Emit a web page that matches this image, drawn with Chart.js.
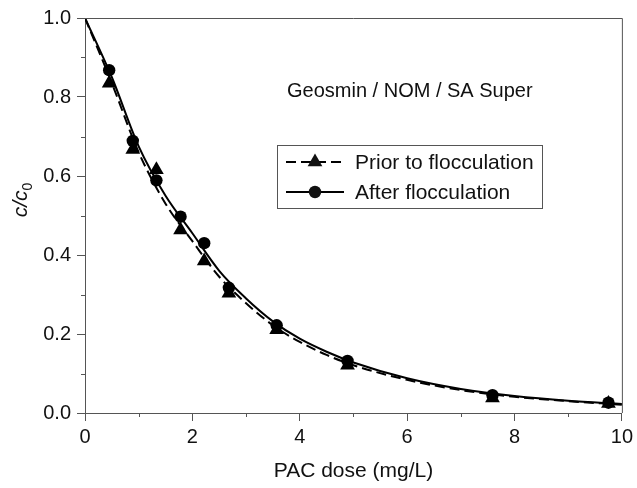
<!DOCTYPE html>
<html>
<head>
<meta charset="utf-8">
<script src="https://cdn.jsdelivr.net/npm/chart.js@4"></script>
<style>
  html, body { margin: 0; padding: 0; background: #fff; }
  #wrap { width: 637px; height: 488px; }
</style>
</head>
<body>
<div id="wrap"><canvas id="chart" width="637" height="488"></canvas></div>
<script>
// measured points (PAC dose, c/c0)
const doseX = [0.45, 0.89, 1.33, 1.78, 2.22, 2.68, 3.57, 4.89, 7.59, 9.75];
const priorY = [0.835, 0.667, 0.616, 0.463, 0.385, 0.303, 0.211, 0.121, 0.038, 0.024];
const afterY = [0.868, 0.689, 0.589, 0.497, 0.430, 0.317, 0.222, 0.132, 0.045, 0.026];

// fitted curves
const fitX = [0, 0.5, 1, 1.5, 2, 2.5, 3, 3.5, 4, 4.5, 5, 6, 7, 8, 9, 10];
const fitAfter = [1.0, 0.850, 0.675, 0.550, 0.455, 0.360, 0.290, 0.232, 0.188, 0.155, 0.128, 0.088, 0.061, 0.043, 0.031, 0.023];
const fitPrior = [1.0, 0.835, 0.660, 0.530, 0.435, 0.345, 0.278, 0.222, 0.180, 0.147, 0.121, 0.084, 0.058, 0.041, 0.030, 0.021];

const xTicks = [0, 2, 4, 6, 8, 10];
const yTicks = [0.0, 0.2, 0.4, 0.6, 0.8, 1.0];
const seriesNames = ['Prior to flocculation', 'After flocculation'];
const noteText = 'Geosmin / NOM / SA Super';

const FONT = "'Liberation Sans', Arial, sans-serif";
const AXIS = '#555';
const TRI_R = 8.5;
const DOT_R = 6.2;

function pts(xs, ys) {
    return xs.map((x, i) => ({ x: x, y: ys[i] }));
}

// box, minor ticks, legend, note, y title
const decorPlugin = {
    id: 'decor',
    afterDraw(chart) {
        const ctx = chart.ctx;
        const a = chart.chartArea;
        const xs = chart.scales.x;
        const ys = chart.scales.y;
        ctx.save();

        // frame top/right
        ctx.strokeStyle = AXIS;
        ctx.lineWidth = 1;
        ctx.beginPath();
        ctx.moveTo(a.left, a.top + 0.5);
        ctx.lineTo(a.right + 0.5, a.top + 0.5);
        ctx.lineTo(a.right + 0.5, a.bottom);
        ctx.stroke();

        // minor ticks
        ctx.beginPath();
        for (let i = 0; i < xTicks.length - 1; i++) {
            const px = Math.round(xs.getPixelForValue((xTicks[i] + xTicks[i + 1]) / 2)) + 0.5;
            ctx.moveTo(px, a.bottom);
            ctx.lineTo(px, a.bottom + 4);
        }
        for (let i = 0; i < yTicks.length - 1; i++) {
            const py = Math.round(ys.getPixelForValue((yTicks[i] + yTicks[i + 1]) / 2)) + 0.5;
            ctx.moveTo(a.left, py);
            ctx.lineTo(a.left - 4, py);
        }
        ctx.stroke();

        // note
        ctx.fillStyle = '#111';
        ctx.font = '20px ' + FONT;
        ctx.textBaseline = 'middle';
        ctx.textAlign = 'left';
        ctx.fillText(noteText, 287, 91);

        // legend
        ctx.strokeStyle = AXIS;
        ctx.lineWidth = 1;
        ctx.strokeRect(277.5, 145.5, 265, 63);
        const rows = [
            { y: 162, dash: [10, 5], style: 'triangle' },
            { y: 192, dash: [], style: 'circle' }
        ];
        rows.forEach((r, i) => {
            ctx.strokeStyle = '#000';
            ctx.lineWidth = 2;
            ctx.setLineDash(r.dash);
            ctx.beginPath();
            ctx.moveTo(286, r.y);
            ctx.lineTo(344, r.y);
            ctx.stroke();
            ctx.setLineDash([]);
            Chart.helpers.drawPoint(ctx, {
                pointStyle: r.style,
                radius: r.style === 'triangle' ? TRI_R : DOT_R,
                borderWidth: 0
            }, 315, r.y);
            ctx.fillStyle = '#111';
            ctx.font = '21px ' + FONT;
            ctx.fillText(seriesNames[i], 355, r.y + 1);
        });

        // y axis title: c/c0
        ctx.translate(20, 200);
        ctx.rotate(-Math.PI / 2);
        ctx.fillStyle = '#111';
        ctx.textAlign = 'left';
        ctx.textBaseline = 'alphabetic';
        ctx.font = 'italic 21px ' + FONT;
        const w1 = ctx.measureText('c/c').width;
        ctx.font = '14px ' + FONT;
        const w2 = ctx.measureText('0').width;
        const start = -(w1 + w2) / 2;
        ctx.font = 'italic 21px ' + FONT;
        ctx.fillText('c/c', start, 7);
        ctx.font = '14px ' + FONT;
        ctx.fillText('0', start + w1, 12);

        ctx.restore();
    }
};

new Chart(document.getElementById('chart'), {
    type: 'scatter',
    data: {
        datasets: [
            {
                label: seriesNames[0],
                data: pts(doseX, priorY),
                pointStyle: 'triangle',
                pointRadius: TRI_R,
                pointBackgroundColor: '#000',
                pointBorderWidth: 0,
                showLine: false
            },
            {
                label: seriesNames[1],
                data: pts(doseX, afterY),
                pointStyle: 'circle',
                pointRadius: DOT_R,
                pointBackgroundColor: '#000',
                pointBorderWidth: 0,
                showLine: false
            },
            {
                label: 'fit prior',
                data: pts(fitX, fitPrior),
                showLine: true,
                borderColor: '#000',
                borderWidth: 2,
                borderDash: [10, 5],
                pointRadius: 0,
                cubicInterpolationMode: 'monotone'
            },
            {
                label: 'fit after',
                data: pts(fitX, fitAfter),
                showLine: true,
                borderColor: '#000',
                borderWidth: 2,
                pointRadius: 0,
                cubicInterpolationMode: 'monotone'
            }
        ]
    },
    options: {
        responsive: false,
        maintainAspectRatio: false,
        animation: false,
        layout: {
            padding: { top: 16, right: 14, left: 0, bottom: 0 }
        },
        plugins: {
            legend: { display: false },
            tooltip: { enabled: false }
        },
        scales: {
            x: {
                type: 'linear',
                min: 0,
                max: 10,
                afterFit: (s) => { s.height = 75; },
                afterBuildTicks: (s) => { s.ticks = xTicks.map(v => ({ value: v })); },
                border: { color: AXIS, width: 1 },
                grid: { drawOnChartArea: false, tickLength: 8, color: AXIS },
                ticks: {
                    color: '#111',
                    padding: 4,
                    maxRotation: 0,
                    font: { family: FONT, size: 20 },
                    callback: (v) => String(v)
                },
                title: {
                    display: true,
                    text: 'PAC dose (mg/L)',
                    color: '#111',
                    font: { family: FONT, size: 21 },
                    padding: { top: 6 }
                }
            },
            y: {
                type: 'linear',
                min: 0,
                max: 1,
                afterFit: (s) => { s.width = 85; },
                afterBuildTicks: (s) => { s.ticks = yTicks.map(v => ({ value: v })); },
                border: { color: AXIS, width: 1 },
                grid: { drawOnChartArea: false, tickLength: 8, color: AXIS },
                ticks: {
                    color: '#111',
                    padding: 6,
                    font: { family: FONT, size: 20 },
                    callback: (v) => Number(v).toFixed(1)
                }
            }
        }
    },
    plugins: [decorPlugin]
});
</script>
</body>
</html>
